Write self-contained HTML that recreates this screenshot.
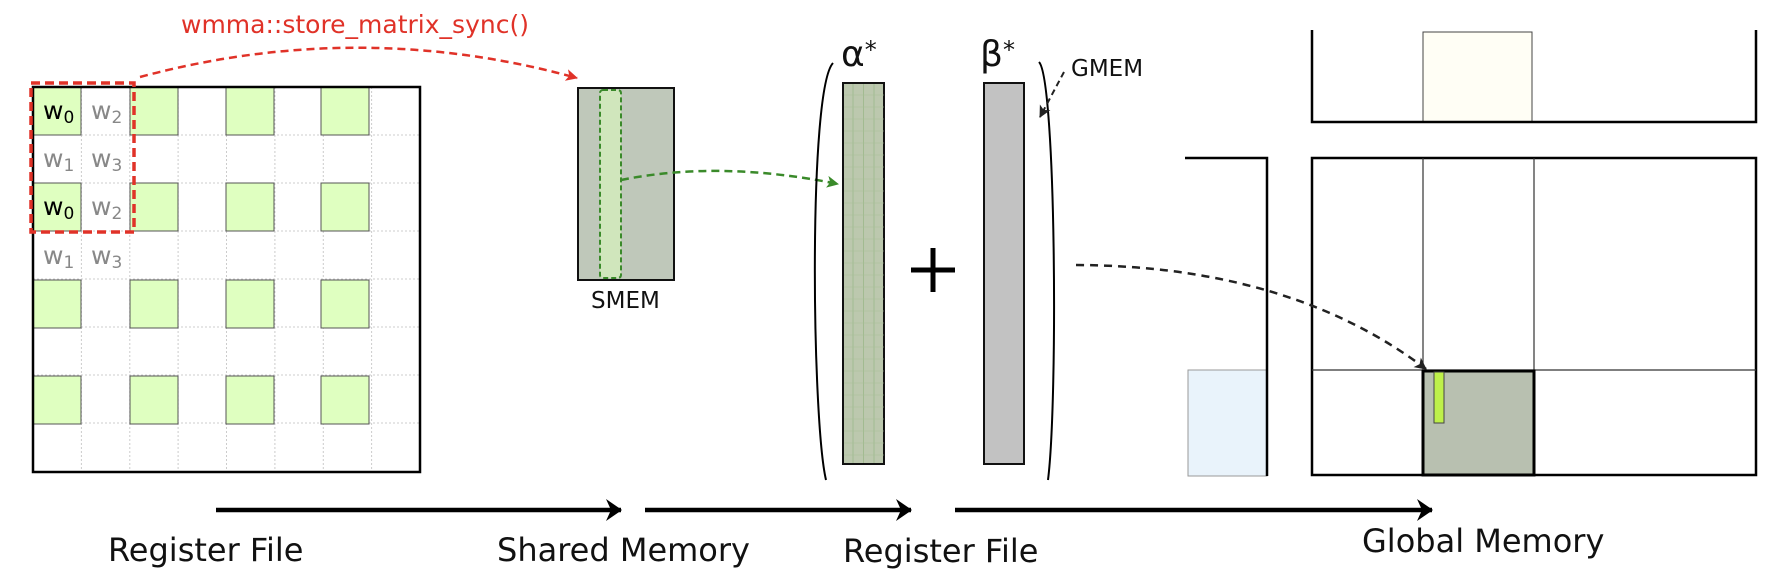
<!DOCTYPE html>
<html><head><meta charset="utf-8"><style>html,body{margin:0;padding:0;background:#fff}svg{display:block}text{font-family:"DejaVu Sans","Liberation Sans",sans-serif}</style></head><body>
<svg width="1783" height="569" viewBox="0 0 1783 569" xmlns="http://www.w3.org/2000/svg">
<defs>
<marker id="ar" markerWidth="12" markerHeight="12" refX="11" refY="6" orient="auto" markerUnits="userSpaceOnUse"><path d="M0,0 L12,6 L0,12 L3,6Z" fill="#e03228"/></marker>
<marker id="ag" markerWidth="12" markerHeight="12" refX="11" refY="6" orient="auto" markerUnits="userSpaceOnUse"><path d="M0,0 L12,6 L0,12 L3,6Z" fill="#3a8a2a"/></marker>
<marker id="ab" markerWidth="12" markerHeight="12" refX="11" refY="6" orient="auto" markerUnits="userSpaceOnUse"><path d="M0,0 L12,6 L0,12 L3,6Z" fill="#222"/></marker>
<marker id="abig" markerWidth="16" markerHeight="22" refX="15" refY="11" orient="auto" markerUnits="userSpaceOnUse"><path d="M0,0 L16,11 L0,22 L5,11Z" fill="#000"/></marker>
</defs>
<g stroke="#ccc" stroke-width="1" stroke-dasharray="2,2">
<line x1="81.4" y1="87" x2="81.4" y2="472"/><line x1="129.8" y1="87" x2="129.8" y2="472"/><line x1="178.1" y1="87" x2="178.1" y2="472"/><line x1="226.5" y1="87" x2="226.5" y2="472"/><line x1="274.9" y1="87" x2="274.9" y2="472"/><line x1="323.3" y1="87" x2="323.3" y2="472"/><line x1="371.6" y1="87" x2="371.6" y2="472"/>
<line x1="33" y1="135" x2="420" y2="135"/><line x1="33" y1="183" x2="420" y2="183"/><line x1="33" y1="231" x2="420" y2="231"/><line x1="33" y1="279" x2="420" y2="279"/><line x1="33" y1="327" x2="420" y2="327"/><line x1="33" y1="375" x2="420" y2="375"/><line x1="33" y1="423" x2="420" y2="423"/>
</g>
<g fill="#dfffc0" stroke="#555" stroke-width="1">
<rect x="33" y="87" width="48" height="48"/><rect x="130" y="87" width="48" height="48"/><rect x="226" y="87" width="48" height="48"/><rect x="321" y="87" width="48" height="48"/>
<rect x="33" y="183" width="48" height="48"/><rect x="130" y="183" width="48" height="48"/><rect x="226" y="183" width="48" height="48"/><rect x="321" y="183" width="48" height="48"/>
<rect x="33" y="280" width="48" height="48"/><rect x="130" y="280" width="48" height="48"/><rect x="226" y="280" width="48" height="48"/><rect x="321" y="280" width="48" height="48"/>
<rect x="33" y="376" width="48" height="48"/><rect x="130" y="376" width="48" height="48"/><rect x="226" y="376" width="48" height="48"/><rect x="321" y="376" width="48" height="48"/>
</g>
<rect x="33" y="87" width="387" height="385" fill="none" stroke="#000" stroke-width="2.5"/>
<g font-size="25">
<text x="43" y="119" fill="#000">w<tspan font-size="17" dy="4">0</tspan></text>
<text x="91" y="119" fill="#888">w<tspan font-size="17" dy="4">2</tspan></text>
<text x="43" y="167" fill="#888">w<tspan font-size="17" dy="4">1</tspan></text>
<text x="91" y="167" fill="#888">w<tspan font-size="17" dy="4">3</tspan></text>
<text x="43" y="215" fill="#000">w<tspan font-size="17" dy="4">0</tspan></text>
<text x="91" y="215" fill="#888">w<tspan font-size="17" dy="4">2</tspan></text>
<text x="43" y="264" fill="#888">w<tspan font-size="17" dy="4">1</tspan></text>
<text x="91" y="264" fill="#888">w<tspan font-size="17" dy="4">3</tspan></text>
</g>
<rect x="31" y="83" width="103" height="149" fill="none" stroke="#e03228" stroke-width="3.5" stroke-dasharray="9,5"/>
<text x="181" y="33" font-size="25" fill="#e03228">wmma::store_matrix_sync()</text>
<path d="M140,77 Q360,18 577,78" fill="none" stroke="#e03228" stroke-width="2.5" stroke-dasharray="8,5" marker-end="url(#ar)"/>
<rect x="578" y="88" width="96" height="192" fill="#bfc8ba" stroke="#111" stroke-width="2"/>
<rect x="600" y="90" width="21" height="188" rx="3" fill="#d0e6bc" stroke="#3a8a2a" stroke-width="2" stroke-dasharray="5,3"/>
<text x="591" y="308" font-size="23" fill="#111">SMEM</text>
<path d="M621,180 Q720,160 838,184" fill="none" stroke="#3a8a2a" stroke-width="2.5" stroke-dasharray="8,5" marker-end="url(#ag)"/>
<path d="M833,63 C808,90 812,420 826,480" fill="none" stroke="#000" stroke-width="2"/>
<text x="841" y="66" font-size="36" fill="#111" font-family="Liberation Serif,serif">α<tspan font-size="24" dy="-8">*</tspan></text>
<rect x="843" y="83" width="41" height="381" fill="#bcc8ae" stroke="#111" stroke-width="2"/>
<g stroke="#9bb88a" stroke-width="0.8">
<line x1="853" y1="84" x2="853" y2="463"/><line x1="863.5" y1="84" x2="863.5" y2="463"/><line x1="874" y1="84" x2="874" y2="463"/>
</g>
<path d="M844,95h40M844,107h40M844,119h40M844,131h40M844,143h40M844,155h40M844,167h40M844,179h40M844,191h40M844,203h40M844,215h40M844,227h40M844,239h40M844,251h40M844,263h40M844,275h40M844,287h40M844,299h40M844,311h40M844,323h40M844,335h40M844,347h40M844,359h40M844,371h40M844,383h40M844,395h40M844,407h40M844,419h40M844,431h40M844,443h40M844,455h40" stroke="#a8c098" stroke-width="0.6"/>
<path d="M911,270h44M933,248v44" stroke="#000" stroke-width="5"/>
<text x="980" y="66" font-size="36" fill="#111" font-family="Liberation Serif,serif">β<tspan font-size="24" dy="-8">*</tspan></text>
<rect x="984" y="83" width="40" height="381" fill="#c2c2c2" stroke="#111" stroke-width="2"/>
<path d="M1039,62 C1056,80 1058,400 1048,480" fill="none" stroke="#000" stroke-width="2"/>
<text x="1071" y="76" font-size="23" fill="#111">GMEM</text>
<path d="M1064,72 L1040,117" fill="none" stroke="#222" stroke-width="2" stroke-dasharray="6,4" marker-end="url(#ab)"/>
<rect x="1423" y="32" width="109" height="90" fill="#fffef5" stroke="#444" stroke-width="1"/>
<path d="M1312,30 V122 H1756 V30" fill="none" stroke="#000" stroke-width="2.5"/>
<rect x="1188" y="370" width="79" height="106" fill="#e9f3fb" stroke="#999" stroke-width="1"/>
<path d="M1185,158 H1267 V476" fill="none" stroke="#000" stroke-width="2.5"/>
<rect x="1312" y="158" width="444" height="317" fill="none" stroke="#000" stroke-width="2.5"/>
<path d="M1423,158V370M1534,158V370M1312,370H1756" stroke="#333" stroke-width="1.2"/>
<rect x="1423" y="371" width="111" height="104" fill="#b8c0b0" stroke="#000" stroke-width="3"/>
<rect x="1434" y="372" width="10" height="51" fill="#bef04a" stroke="#444" stroke-width="1"/>
<path d="M1076,265 Q1290,266 1426,369" fill="none" stroke="#222" stroke-width="2.5" stroke-dasharray="8,6" marker-end="url(#ab)"/>
<g stroke="#000" stroke-width="4.5" marker-end="url(#abig)">
<line x1="216" y1="510" x2="621" y2="510"/><line x1="645" y1="510" x2="911" y2="510"/><line x1="955" y1="510" x2="1432" y2="510"/>
</g>
<g font-size="32" fill="#111">
<text x="108" y="561">Register File</text>
<text x="497" y="561">Shared Memory</text>
<text x="843" y="562">Register File</text>
<text x="1362" y="552">Global Memory</text>
</g>
</svg>
</body></html>
